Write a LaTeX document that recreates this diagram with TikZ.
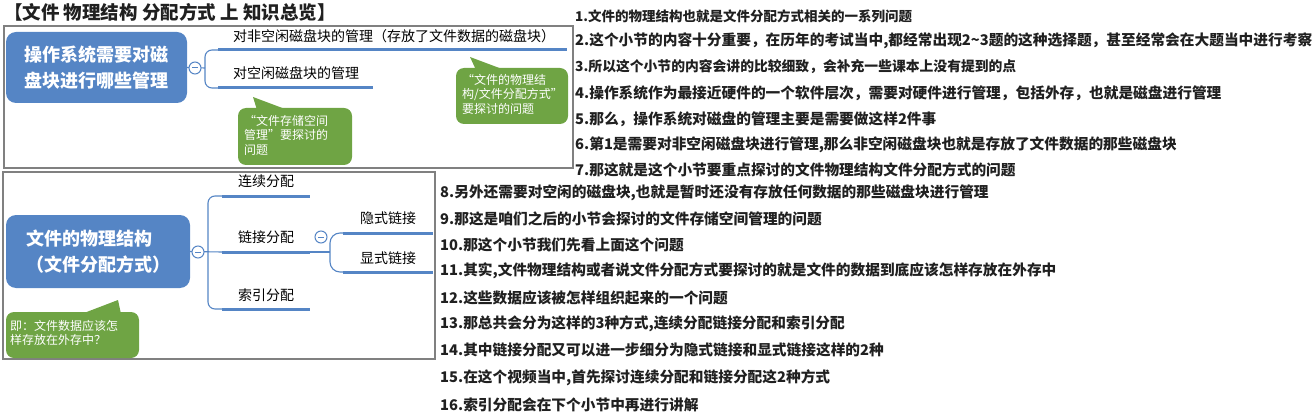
\documentclass[tikz,border=0pt]{standalone}
\usepackage{fontspec}
\setmainfont{Noto Sans CJK SC}
\definecolor{mindblue}{HTML}{5585C5}
\definecolor{framegray}{HTML}{808080}
\definecolor{calloutgreen}{HTML}{6FA444}
\definecolor{notegray}{HTML}{202020}
\begin{document}
\begin{tikzpicture}[x=1pt,y=-1pt,
  frame/.style={draw=framegray, line width=1.3pt},
  bluebox/.style={fill=mindblue, rounded corners=10pt, text=white, font=\fontsize{18}{26}\selectfont\bfseries, align=center, inner sep=0pt},
  branchline/.style={draw=mindblue, line width=3pt},
  thinline/.style={draw=mindblue, line width=1.1pt, rounded corners=7pt},
  toggle/.style={circle, draw=mindblue, fill=white, line width=1pt, minimum size=12pt, inner sep=0pt, text=mindblue},
  leaf/.style={font=\fontsize{14}{16}\selectfont, text=black, inner sep=0pt, anchor=west},
  callout/.style={fill=calloutgreen},
  callouttext/.style={text=white, font=\fontsize{12}{14.5}\selectfont, align=left, inner sep=0pt, anchor=north west},
  note/.style={font=\fontsize{14.7}{16}\selectfont\bfseries, text=notegray, inner sep=0pt, anchor=west}
]
\useasboundingbox (0,0) rectangle (1313,414);

% title
\node[anchor=west, inner sep=0pt, font=\fontsize{18.5}{20}\selectfont\bfseries, text=notegray] (title) at (4,12) {【文件 物理结构 分配方式 上 知识总览】};

% frames
\draw[frame] (4,26) rectangle (573,168);
\draw[frame] (3,172) rectangle (435,359);

% ---------- frame 1 ----------
\node[bluebox, minimum width=181pt, minimum height=71pt] (q) at (96.5,67.5) {操作系统需要对磁\\盘块进行哪些管理};
\coordinate (a1s) at (218,50); \coordinate (a1e) at (567,50);
\coordinate (a2s) at (218,88); \coordinate (a2e) at (373,88);
\coordinate (br1) at (205,68);
\draw[thinline] (a1s) -- (205,50) -- (205,88) -- (a2s);
\draw[thinline] (q.east) -- (br1);
\node[toggle] (t1) at (195,68) {\rule{6pt}{1pt}};
\draw[branchline] (a1s) -- (a1e);
\draw[branchline] (a2s) -- (a2e);
\node[leaf] (a1) at (233,36) {对非空闲磁盘块的管理（存放了文件数据的磁盘块）};
\node[leaf] (a2) at (233,73) {对空闲磁盘块的管理};

% callout 1
\fill[callout, rounded corners=8pt] (238,108) rectangle (352,165);
\fill[callout] (253,97) -- (257,110) -- (285,109) -- cycle;
\node[callouttext] (n1) at (244,115) {“文件存储空间\\管理”要探讨的\\问题};

% callout 2
\fill[callout, rounded corners=8pt] (456,68) rectangle (568,124);
\fill[callout] (470,57) -- (476,70) -- (502,69) -- cycle;
\node[callouttext] (n2) at (462,74) {“文件的物理结\\构/文件分配方式”\\要探讨的问题};

% ---------- frame 2 ----------
\node[bluebox, align=left, minimum width=184pt, minimum height=73pt] (f) at (98,251.5) {文件的物理结构\\（文件分配方式）};
\coordinate (b1s) at (222,196); \coordinate (b1e) at (310,196);
\coordinate (b2s) at (222,252); \coordinate (b2e) at (310,252);
\coordinate (b3s) at (222,309); \coordinate (b3e) at (310,309);
\draw[thinline] (b1s) -- (208,196) -- (208,309) -- (b3s);
\draw[thinline] (f.east) -- (b2s);
\node[toggle] (t2) at (198,252) {\rule{6pt}{1pt}};
\draw[branchline] (b1s) -- (b1e);
\draw[branchline] (b2s) -- (b2e);
\draw[branchline] (b3s) -- (b3e);
\node[leaf, anchor=center] (b1) at (266,181) {连续分配};
\node[leaf, anchor=center] (b2) at (266,237) {链接分配};
\node[leaf, anchor=center] (b3) at (266,295) {索引分配};

\coordinate (c1s) at (343,233); \coordinate (c1e) at (433,233);
\coordinate (c2s) at (343,272); \coordinate (c2e) at (433,272);
\draw[thinline] (b2e) -- (330,252);
\draw[thinline, rounded corners=10pt] (c1s) -- (330,233) -- (330,272) -- (c2s);
\node[toggle] (t3) at (321,237) {\rule{6pt}{1pt}};
\draw[branchline] (c1s) -- (c1e);
\draw[branchline] (c2s) -- (c2e);
\node[leaf, anchor=center] (c1) at (388,218) {隐式链接};
\node[leaf, anchor=center] (c2) at (388,258) {显式链接};

% callout 3
\fill[callout, rounded corners=8pt] (6,312) rectangle (139,358);
\fill[callout] (118,300) -- (84,313) -- (121,314) -- cycle;
\node[callouttext] (n3) at (10,320) {即：文件数据应该怎\\样存放在外存中？};

% ---------- notes ----------
\node[note, font=\fontsize{13.5}{16}\selectfont\bfseries] (l1) at (575,16) {1.文件的物理结构也就是文件分配方式相关的一系列问题};
\node[note] (l2) at (575,41) {2.这个小节的内容十分重要，在历年的考试当中,都经常出现2\textasciitilde3题的这种选择题，甚至经常会在大题当中进行考察};
\node[note, font=\fontsize{13.8}{16}\selectfont\bfseries] (l3) at (575,67) {3.所以这个小节的内容会讲的比较细致，会补充一些课本上没有提到的点};
\node[note] (l4) at (575,93) {4.操作系统作为最接近硬件的一个软件层次，需要对硬件进行管理，包括外存，也就是磁盘进行管理};
\node[note] (l5) at (575,119) {5.那么，操作系统对磁盘的管理主要是需要做这样2件事};
\node[note] (l6) at (575,145) {6.第1是需要对非空闲磁盘块进行管理,那么非空闲磁盘块也就是存放了文件数据的那些磁盘块};
\node[note] (l7) at (575,170) {7.那这就是这个小节要重点探讨的文件物理结构文件分配方式的问题};
\node[note] (l8) at (440,193) {8.另外还需要对空闲的磁盘块,也就是暂时还没有存放任何数据的那些磁盘块进行管理};
\node[note] (l9) at (440,219) {9.那这是咱们之后的小节会探讨的文件存储空间管理的问题};
\node[note] (l10) at (440,245) {10.那这个小节我们先看上面这个问题};
\node[note] (l11) at (440,271) {11.其实,文件物理结构或者说文件分配方式要探讨的就是文件的数据到底应该怎样存放在外存中};
\node[note] (l12) at (440,298) {12.这些数据应该被怎样组织起来的一个问题};
\node[note] (l13) at (440,324) {13.那总共会分为这样的3种方式,连续分配链接分配和索引分配};
\node[note] (l14) at (440,350) {14.其中链接分配又可以进一步细分为隐式链接和显式链接这样的2种};
\node[note] (l15) at (440,378) {15.在这个视频当中,首先探讨连续分配和链接分配这2种方式};
\node[note] (l16) at (440,405) {16.索引分配会在下个小节中再进行讲解};
\end{tikzpicture}
\end{document}
